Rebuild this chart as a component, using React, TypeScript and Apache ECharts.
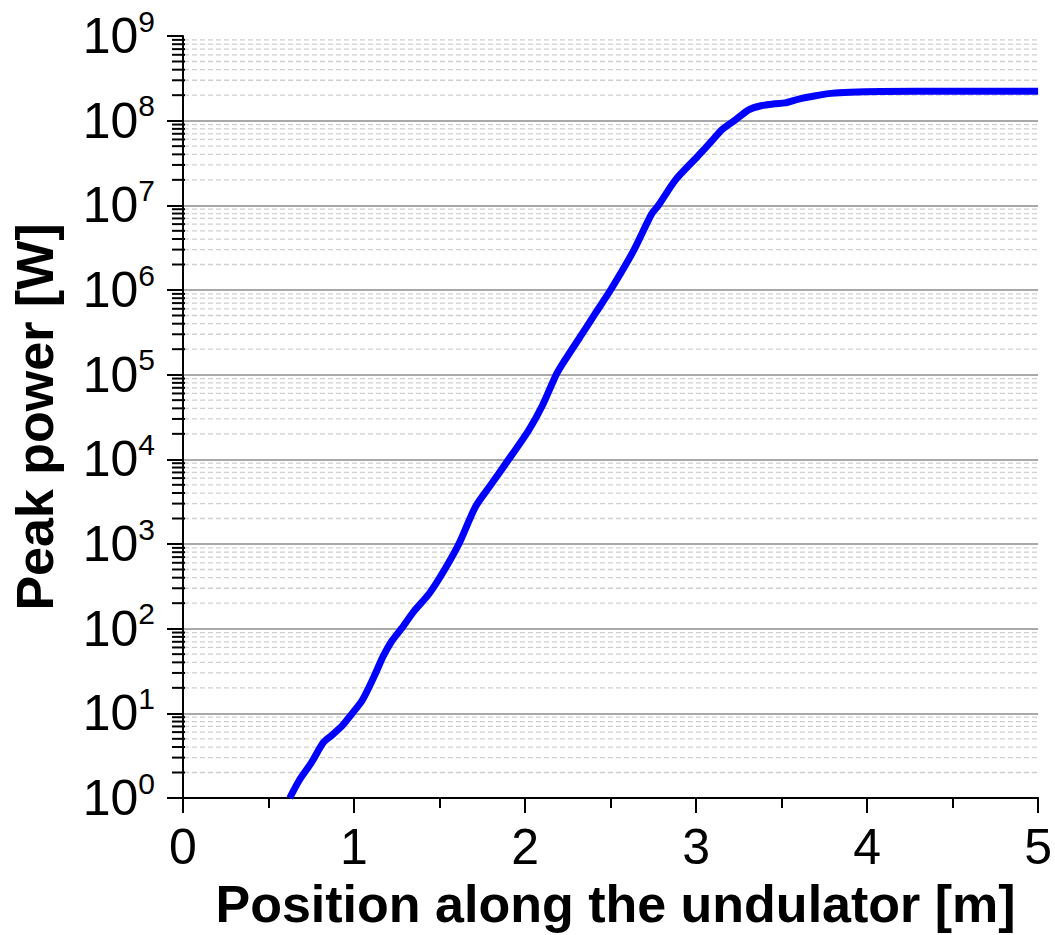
import React, { useEffect, useRef } from "react";
import * as echarts from "echarts";

// Position along the undulator [m]
const positions = [
  0.624, 0.68, 0.75, 0.82, 0.87, 0.93, 0.99, 1.05, 1.12, 1.17, 1.22, 1.277,
  1.35, 1.44, 1.53, 1.615, 1.71, 1.8, 1.887, 2.02, 2.1, 2.18, 2.22, 2.32, 2.41,
  2.5, 2.63, 2.74, 2.78, 2.88, 3.01, 3.1, 3.15, 3.23, 3.31, 3.38, 3.46, 3.52,
  3.6, 3.7, 3.79, 3.9, 4.08, 4.5, 5.0,
];

// Peak power [W]
const peakPower = [
  1.0, 1.62, 2.6, 4.5, 5.5, 7.1, 10, 14.5, 28, 47, 71, 100, 160, 260, 500,
  1020, 2750, 5000, 8900, 21900, 42700, 98000, 135000, 275000, 525000, 1.0e6,
  2.8e6, 7.9e6, 1.0e7, 2.0e7, 3.8e7, 6.0e7, 7.8e7, 1.02e8, 1.35e8, 1.5e8,
  1.58e8, 1.62e8, 1.8e8, 1.97e8, 2.1e8, 2.17e8, 2.21e8, 2.22e8, 2.22e8,
];

// Decades shown on the power axis
const decades = [1, 1e1, 1e2, 1e3, 1e4, 1e5, 1e6, 1e7, 1e8];
const minorMultipliers = [2, 3, 4, 5, 6, 7, 8, 9];

const FONT = '"Liberation Sans", Arial, Helvetica, sans-serif';

export default function App() {
  const ref = useRef<HTMLDivElement>(null);

  useEffect(() => {
    if (!ref.current) return;
    const chart = echarts.init(ref.current, undefined, { renderer: "svg" });

    const minorValues: number[][] = [];
    decades.forEach((d) => {
      minorMultipliers.forEach((m) => minorValues.push([0, d * m]));
    });

    const curve = positions.map((x, i) => [x, peakPower[i]]);

    chart.setOption({
      animation: false,
      backgroundColor: "#ffffff",
      grid: { left: 183, right: 14, top: 36, bottom: 137, containLabel: false },
      xAxis: {
        type: "value",
        min: 0,
        max: 5,
        interval: 1,
        name: "Position along the undulator [m]",
        nameLocation: "middle",
        nameGap: 80,
        nameTextStyle: {
          fontFamily: FONT,
          fontWeight: "bold",
          fontSize: 52,
          color: "#000",
          padding: [0, 0, 0, 10],
        },
        axisLine: { show: true, onZero: false, lineStyle: { color: "#000", width: 2 } },
        axisTick: { show: true, length: 15, lineStyle: { color: "#000", width: 2 } },
        minorTick: { show: true, splitNumber: 2, length: 10, lineStyle: { color: "#000", width: 2 } },
        axisLabel: { fontFamily: FONT, fontSize: 50, color: "#000", margin: 24 },
        splitLine: { show: false },
      },
      yAxis: {
        type: "log",
        logBase: 10,
        min: 1,
        max: 1e9,
        interval: 1,
        name: "Peak power [W]",
        nameLocation: "middle",
        nameGap: 122,
        nameTextStyle: {
          fontFamily: FONT,
          fontWeight: "bold",
          fontSize: 52,
          color: "#000",
        },
        axisLine: { show: true, lineStyle: { color: "#000", width: 2 } },
        axisTick: { show: true, length: 16, lineStyle: { color: "#000", width: 2 } },
        axisLabel: {
          margin: 28,
          formatter: (v: number) => `{b|10}{s|${Math.round(Math.log10(v))}}`,
          rich: {
            b: { fontFamily: FONT, fontSize: 50, color: "#000" },
            s: {
              fontFamily: FONT,
              fontSize: 30,
              color: "#000",
              padding: [0, 0, 30, 0],
            },
          },
        },
        splitLine: {
          show: true,
          showMinLine: false,
          showMaxLine: false,
          lineStyle: { color: "#8c8c8c", width: 1.5 },
        },
      },
      series: [
        {
          // minor decade gridlines and their ticks
          type: "custom",
          coordinateSystem: "cartesian2d",
          silent: true,
          clip: false,
          z: 1,
          encode: { x: 0, y: 1 },
          data: minorValues,
          renderItem: (_params: any, api: any) => {
            const v = api.value(1);
            const left = api.coord([0, v]);
            const right = api.coord([5, v]);
            return {
              type: "group",
              children: [
                {
                  type: "line",
                  shape: { x1: left[0] + 1, y1: left[1], x2: right[0], y2: left[1] },
                  style: { stroke: "#cfcfcf", lineWidth: 1.3, lineDash: [5, 3] },
                },
                {
                  type: "line",
                  shape: { x1: left[0] - 11, y1: left[1], x2: left[0] + 2, y2: left[1] },
                  style: { stroke: "#000", lineWidth: 2 },
                },
              ],
            };
          },
        },
        {
          type: "line",
          data: curve,
          smooth: 0.25,
          showSymbol: false,
          z: 3,
          lineStyle: { color: "#0000ff", width: 7 },
        },
      ],
    });

    return () => chart.dispose();
  }, []);

  return (
    <div
      ref={ref}
      style={{ position: "absolute", left: 0, top: 0, width: 1055, height: 935 }}
    />
  );
}
